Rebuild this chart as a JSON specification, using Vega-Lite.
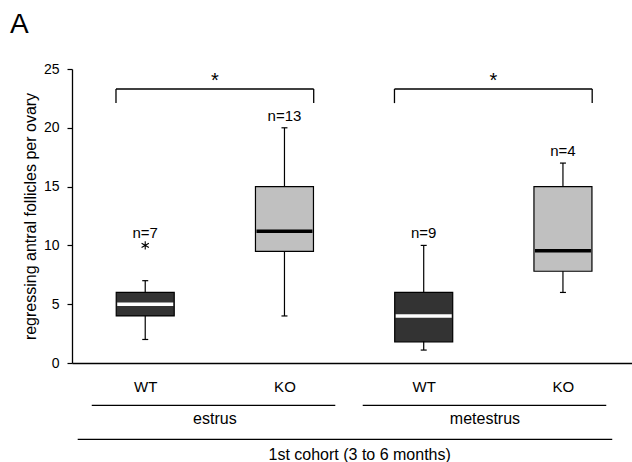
{
  "$schema": "https://vega.github.io/schema/vega-lite/v6.json",
  "width": 560,
  "height": 294,
  "autosize": "none",
  "padding": {"left": 72, "top": 69, "right": 0, "bottom": 99},
  "background": "white",
  "config": {"view": {"stroke": null}, "font": "Liberation Sans", "mark": {"opacity": 1}},
  "title": {"text": "A", "anchor": "start", "frame": "group", "offset": 1, "dx": -62, "fontSize": 28, "fontWeight": "normal", "color": "black", "font": "Liberation Sans", "baseline": "alphabetic"},
  "datasets": {
    "boxes": [
      {"pos": 0, "geno": "WT", "min": 2, "q1": 4, "median": 5, "q3": 6, "max": 7, "n": "n=7", "top": 10},
      {"pos": 1, "geno": "KO", "min": 4, "q1": 9.5, "median": 11.2, "q3": 15, "max": 20, "n": "n=13", "top": 20},
      {"pos": 2, "geno": "WT", "min": 1.1, "q1": 1.8, "median": 4, "q3": 6, "max": 10, "n": "n=9", "top": 10},
      {"pos": 3, "geno": "KO", "min": 6, "q1": 7.8, "median": 9.55, "q3": 15, "max": 17, "n": "n=4", "top": 17}
    ],
    "outliers": [{"pos": 0, "value": 10}],
    "lines": [
      {"x": -0.21, "x2": 1.21, "y": 23.3, "y2": 23.3},
      {"x": -0.21, "x2": -0.21, "y": 23.3, "y2": 22.1},
      {"x": 1.21, "x2": 1.21, "y": 23.3, "y2": 22.1},
      {"x": 1.79, "x2": 3.21, "y": 23.3, "y2": 23.3},
      {"x": 1.79, "x2": 1.79, "y": 23.3, "y2": 22.1},
      {"x": 3.21, "x2": 3.21, "y": 23.3, "y2": 22.1},
      {"x": -0.384, "x2": 1.365, "y": -3.6, "y2": -3.6},
      {"x": 1.562, "x2": 3.311, "y": -3.6, "y2": -3.6},
      {"x": -0.485, "x2": 3.354, "y": -6.5, "y2": -6.5}
    ],
    "stars": [{"x": 0.5, "y": 23.3, "t": "*"}, {"x": 2.5, "y": 23.3, "t": "*"}],
    "cats": [
      {"x": 0.5, "y": -4.75, "label": "estrus"},
      {"x": 2.44, "y": -4.75, "label": "metestrus"},
      {"x": 1.54, "y": -7.86, "label": "1st cohort (3 to 6 months)"}
    ]
  },
  "layer": [
    {
      "data": {"name": "boxes"},
      "mark": {"type": "rule", "color": "black", "strokeWidth": 1.2},
      "encoding": {
        "x": {"field": "pos", "type": "quantitative", "scale": {"domain": [-0.49, 3.46], "nice": false, "zero": false},
          "axis": {"values": [0, 1, 2, 3], "labelExpr": "datum.value % 2 == 0 ? 'WT' : 'KO'", "ticks": false, "tickSize": 0, "grid": false, "title": null, "domainColor": "black", "domainWidth": 1.3, "labelFontSize": 15, "labelColor": "black", "labelPadding": 16, "labelOverlap": false, "labelFlush": false}},
        "y": {"field": "min", "type": "quantitative", "scale": {"domain": [0, 25], "nice": false, "zero": true},
          "axis": {"values": [0, 5, 10, 15, 20, 25], "grid": false, "tickSize": 5, "tickColor": "black", "tickWidth": 1.2, "domainColor": "black", "domainWidth": 1.3, "labelFontSize": 14, "labelColor": "black", "labelPadding": 8, "title": "regressing antral follicles per ovary", "titleFontSize": 16, "titleFontWeight": "normal", "titleColor": "black", "titlePadding": 5}},
        "y2": {"field": "max"}
      }
    },
    {
      "data": {"name": "boxes"},
      "mark": {"type": "bar", "width": 58, "stroke": "black", "strokeWidth": 1.2},
      "encoding": {
        "x": {"field": "pos", "type": "quantitative"},
        "y": {"field": "q1", "type": "quantitative"},
        "y2": {"field": "q3"},
        "color": {"field": "geno", "type": "nominal", "scale": {"domain": ["WT", "KO"], "range": ["#333333", "#c0c0c0"]}, "legend": null}
      }
    },
    {
      "data": {"name": "boxes"},
      "mark": {"type": "tick", "orient": "horizontal", "size": 56, "thickness": 3.5, "opacity": 1},
      "encoding": {
        "x": {"field": "pos", "type": "quantitative"},
        "y": {"field": "median", "type": "quantitative"},
        "color": {"condition": {"test": "datum.geno == 'WT'", "value": "white"}, "value": "black"}
      }
    },
    {
      "data": {"name": "boxes"},
      "mark": {"type": "tick", "orient": "horizontal", "size": 6, "thickness": 1.2, "color": "black", "opacity": 1},
      "encoding": {
        "x": {"field": "pos", "type": "quantitative"},
        "y": {"field": "min", "type": "quantitative"}
      }
    },
    {
      "data": {"name": "boxes"},
      "mark": {"type": "tick", "orient": "horizontal", "size": 6, "thickness": 1.2, "color": "black", "opacity": 1},
      "encoding": {
        "x": {"field": "pos", "type": "quantitative"},
        "y": {"field": "max", "type": "quantitative"}
      }
    },
    {
      "data": {"name": "outliers"},
      "mark": {"type": "point", "shape": "M0,-1L0,1M-0.87,-0.5L0.87,0.5M-0.87,0.5L0.87,-0.5", "size": 70, "filled": false, "stroke": "black", "strokeWidth": 1.1, "opacity": 1},
      "encoding": {
        "x": {"field": "pos", "type": "quantitative"},
        "y": {"field": "value", "type": "quantitative"}
      }
    },
    {
      "data": {"name": "boxes"},
      "mark": {"type": "text", "fontSize": 15, "baseline": "middle", "dy": -12, "color": "black"},
      "encoding": {
        "x": {"field": "pos", "type": "quantitative"},
        "y": {"field": "top", "type": "quantitative"},
        "text": {"field": "n"}
      }
    },
    {
      "data": {"name": "lines"},
      "mark": {"type": "rule", "color": "black", "strokeWidth": 1.3},
      "encoding": {
        "x": {"field": "x", "type": "quantitative"},
        "x2": {"field": "x2"},
        "y": {"field": "y", "type": "quantitative"},
        "y2": {"field": "y2"}
      }
    },
    {
      "data": {"name": "stars"},
      "mark": {"type": "text", "fontSize": 20, "baseline": "alphabetic", "dy": -2, "color": "black"},
      "encoding": {
        "x": {"field": "x", "type": "quantitative"},
        "y": {"field": "y", "type": "quantitative"},
        "text": {"field": "t"}
      }
    },
    {
      "data": {"name": "cats"},
      "mark": {"type": "text", "fontSize": 16, "baseline": "middle", "color": "black"},
      "encoding": {
        "x": {"field": "x", "type": "quantitative"},
        "y": {"field": "y", "type": "quantitative"},
        "text": {"field": "label"}
      }
    }
  ]
}
